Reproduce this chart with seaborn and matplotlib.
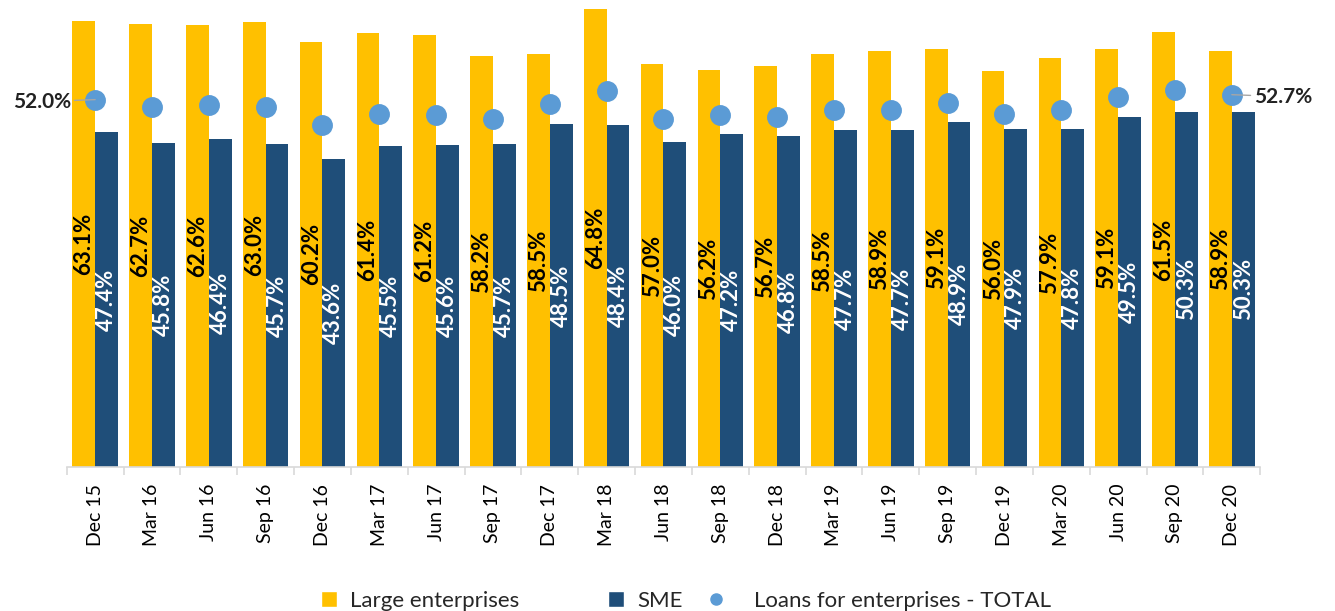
import pandas as pd
import seaborn as sns
import matplotlib.pyplot as plt
from matplotlib.lines import Line2D
from matplotlib.patches import Patch
from matplotlib.ticker import FixedLocator

periods = ["Dec 15", "Mar 16", "Jun 16", "Sep 16", "Dec 16", "Mar 17", "Jun 17",
           "Sep 17", "Dec 17", "Mar 18", "Jun 18", "Sep 18", "Dec 18", "Mar 19",
           "Jun 19", "Sep 19", "Dec 19", "Mar 20", "Jun 20", "Sep 20", "Dec 20"]
large = [63.1, 62.7, 62.6, 63.0, 60.2, 61.4, 61.2, 58.2, 58.5, 64.8, 57.0,
         56.2, 56.7, 58.5, 58.9, 59.1, 56.0, 57.9, 59.1, 61.5, 58.9]
sme = [47.4, 45.8, 46.4, 45.7, 43.6, 45.5, 45.6, 45.7, 48.5, 48.4, 46.0,
       47.2, 46.8, 47.7, 47.7, 48.9, 47.9, 47.8, 49.5, 50.3, 50.3]
total = [52.0, 51.0, 51.2, 51.0, 48.4, 50.0, 49.8, 49.2, 51.4, 53.2, 49.2,
         49.8, 49.5, 50.6, 50.6, 51.5, 50.0, 50.6, 52.3, 53.4, 52.7]

series = ["Large enterprises", "SME"]
total_name = "Loans for enterprises - TOTAL"
colors = {"Large enterprises": "#FFC000", "SME": "#1F4E79"}
dot_color = "#5B9BD5"

bars_df = pd.DataFrame({
    "period": periods * 2,
    "series": [series[0]] * len(periods) + [series[1]] * len(periods),
    "value": large + sme,
})
total_df = pd.DataFrame({"period": periods, "value": total})

sns.set_style("white")
plt.rcParams["font.family"] = ["Lato", "DejaVu Sans"]

fig = plt.figure(figsize=(13.35, 6.11), dpi=100)
ax = fig.add_axes([0.050, 0.2357, 0.894, 0.7643])

sns.barplot(data=bars_df, x="period", y="value", hue="series", hue_order=series,
            palette=colors, order=periods, width=0.8, saturation=1, linewidth=0,
            legend=False, ax=ax)

# value labels inside the bars
for cont, col in zip(ax.containers, ["black", "white"]):
    ax.bar_label(cont, labels=[f"{v:.1f}%" for v in cont.datavalues],
                 label_type="center", rotation=90, color=col,
                 fontsize=16, fontweight="bold")

sns.pointplot(data=total_df, x="period", y="value", order=periods, color=dot_color,
              markers="o", linestyle="none", markersize=13, errorbar=None, ax=ax)

# end labels with leader lines
n = len(periods)
ax.annotate(f"{total[0]:.1f}%", xy=(0, total[0]), xytext=(-24, -2),
            textcoords="offset pixels", ha="right", va="center",
            fontsize=15, fontweight="bold", color="#222222",
            arrowprops=dict(arrowstyle="-", color="#A6A6A6", lw=1, shrinkA=0, shrinkB=0))
ax.annotate(f"{total[-1]:.1f}%", xy=(n - 1, total[-1]), xytext=(22, -2),
            textcoords="offset pixels", ha="left", va="center",
            fontsize=15, fontweight="bold", color="#222222",
            arrowprops=dict(arrowstyle="-", color="#A6A6A6", lw=1, shrinkA=0, shrinkB=0))

ax.set_xlim(-0.5, n - 0.5)
ax.set_ylim(0, 66.1)
ax.set_xlabel("")
ax.set_ylabel("")
ax.set_yticks([])
for side in ["top", "right", "left"]:
    ax.spines[side].set_visible(False)
ax.spines["bottom"].set_color("#D9D9D9")
ax.spines["bottom"].set_linewidth(1.2)

ax.xaxis.set_minor_locator(FixedLocator([i - 0.5 for i in range(n + 1)]))
ax.tick_params(axis="x", which="major", length=0, pad=12, labelsize=14, labelcolor="black")
ax.tick_params(axis="x", which="minor", length=6, width=1.2, color="#D9D9D9", bottom=True)
plt.setp(ax.get_xticklabels(), rotation=90, va="top", ha="center")

# legend in two pieces to copy the uneven spacing of the original
bar_handles = [Patch(facecolor=colors[s], label=s) for s in series]
dot_handle = [Line2D([], [], linestyle="none", marker="o", markersize=8,
                     color=dot_color, label=total_name)]
leg1 = fig.legend(handles=bar_handles, loc="center", bbox_to_anchor=(0.376, 0.017), ncol=2,
                  frameon=False, fontsize=16, handlelength=0.7, handleheight=0.7,
                  handletextpad=0.6, columnspacing=4.0)
fig.legend(handles=dot_handle, loc="center", bbox_to_anchor=(0.659, 0.017),
           frameon=False, fontsize=16, handlelength=0.7, handletextpad=1.35)

fig.savefig("out.png", dpi=100)
